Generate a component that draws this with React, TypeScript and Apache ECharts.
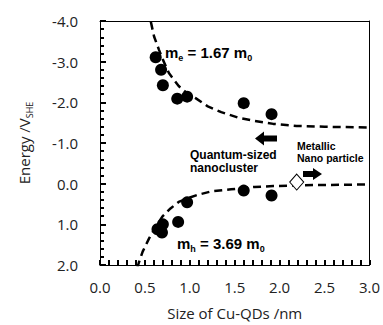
import React, { useEffect, useRef } from "react";
import * as echarts from "echarts";

const electronDots: [number, number][] = [
  [0.62, -3.11], [0.68, -2.8], [0.7, -2.42], [0.86, -2.09], [0.97, -2.14], [1.6, -1.98], [1.91, -1.71],
];
const holeDots: [number, number][] = [
  [0.64, 1.12], [0.69, 1.2], [0.7, 1.0], [0.87, 0.94], [0.97, 0.46], [1.6, 0.17], [1.91, 0.29],
];
const metalDot: [number, number][] = [[2.19, -0.04]];
const electronCurve: [number, number][] = [
  [0.566, -3.98], [0.602, -3.62], [0.657, -3.29], [0.7, -3.05], [0.767, -2.72], [0.876, -2.4], [0.97, -2.22],
  [1.06, -2.11], [1.2, -1.9], [1.35, -1.76], [1.53, -1.63], [1.7, -1.55], [1.93, -1.47], [2.19, -1.42],
  [2.5, -1.4], [3.0, -1.38],
];
const holeCurve: [number, number][] = [
  [0.415, 2.08], [0.431, 1.95], [0.475, 1.67], [0.548, 1.34], [0.621, 1.06], [0.694, 0.81], [0.785, 0.61],
  [0.876, 0.45], [0.986, 0.35], [1.095, 0.27], [1.24, 0.19], [1.46, 0.14], [1.72, 0.08], [1.93, 0.06],
  [2.19, 0.04], [3.0, 0.02],
];

const FONT = "Open Sans";
const BOLD = "Liberation Sans";

export default function App() {
  const ref = useRef<HTMLDivElement>(null);
  useEffect(() => {
    const chart = echarts.init(ref.current!, null, { renderer: "svg" });
    const dash = { color: "#000", width: 2.5, type: [8, 5] as number[] };
    const eqRich = {
      m: { fontFamily: BOLD, fontWeight: "bold", fontSize: 15, fill: "#000", lineHeight: 20 },
      s: { fontFamily: BOLD, fontWeight: "bold", fontSize: 9, fill: "#000", verticalAlign: "bottom", lineHeight: 9 },
    };
    const tickStyle = { color: "#000", width: 2, opacity: 1 };
    const frame = {
      type: "value", min: 0, max: 3,
      axisLine: { show: true, onZero: false, lineStyle: { color: "#000", width: 1 } },
      axisTick: { show: false }, minorTick: { show: false }, axisLabel: { show: false }, splitLine: { show: false },
    };
    chart.setOption({
      animation: false,
      grid: { left: 100, right: 9, top: 21, bottom: 58 },
      xAxis: [
        {
          type: "value", min: 0, max: 3, interval: 0.5, position: "bottom",
          axisLine: { show: true, onZero: false, lineStyle: { color: "#000", width: 1 } },
          axisTick: { show: true, inside: true, length: 5, lineStyle: tickStyle },
          minorTick: { show: true, splitNumber: 5, length: 5, lineStyle: tickStyle },
          splitLine: { show: false },
          axisLabel: { fontFamily: FONT, fontSize: 15, color: "#222", margin: 14, formatter: (v: number) => v.toFixed(1) },
          name: "Size of Cu-QDs /nm", nameLocation: "middle", nameGap: 40,
          nameTextStyle: { fontFamily: FONT, fontSize: 15, color: "#222" },
        },
        { ...frame, position: "top" },
      ],
      yAxis: [
        {
          type: "value", min: -4, max: 2, interval: 1, inverse: true, position: "left",
          axisLine: { show: true, onZero: false, lineStyle: { color: "#000", width: 1 } },
          axisTick: { show: true, inside: true, length: 6, lineStyle: tickStyle },
          minorTick: { show: true, splitNumber: 5, length: 4, lineStyle: tickStyle },
          splitLine: { show: false },
          axisLabel: {
            fontFamily: FONT, fontSize: 15, color: "#222", margin: 22,
            formatter: (v: number) => (Math.abs(v) < 1e-9 ? "0.0" : v.toFixed(1)),
          },
          name: "Energy /V{s|SHE}", nameLocation: "middle", nameGap: 66, nameRotate: 90,
          nameTextStyle: {
            fontFamily: FONT, fontSize: 15, color: "#222", lineHeight: 20,
            rich: { s: { fontFamily: FONT, fontSize: 9, color: "#222", verticalAlign: "bottom", lineHeight: 9 } },
          },
        },
        { ...frame, min: -4, max: 2, inverse: true, position: "right" },
      ],
      series: [
        { type: "line", data: electronCurve, showSymbol: false, symbol: "none", lineStyle: dash, clip: true, z: 2 },
        { type: "line", data: holeCurve, showSymbol: false, symbol: "none", lineStyle: dash, clip: true, z: 2 },
        { type: "scatter", data: electronDots, symbol: "circle", symbolSize: 12, itemStyle: { color: "#000", opacity: 1 }, z: 3 },
        { type: "scatter", data: holeDots, symbol: "circle", symbolSize: 12, itemStyle: { color: "#000", opacity: 1 }, z: 3 },
        {
          type: "scatter", data: metalDot, symbol: "diamond", symbolSize: [14, 16],
          itemStyle: { color: "#fff", borderColor: "#000", borderWidth: 1, opacity: 1 }, z: 4,
        },
      ],
      graphic: [
        {
          type: "text", x: 165, y: 52,
          style: { text: "{m|m}{s|e}{m| = 1.67 m}{s|0}", verticalAlign: "middle", rich: eqRich },
        },
        {
          type: "text", x: 177, y: 243,
          style: { text: "{m|m}{s|h}{m| = 3.69 m}{s|0}", verticalAlign: "middle", rich: eqRich },
        },
        {
          type: "text", x: 190, y: 155,
          style: { text: "Quantum-sized", fontFamily: BOLD, fontWeight: "bold", fontSize: 12, fill: "#000", verticalAlign: "middle" },
        },
        {
          type: "text", x: 190, y: 168,
          style: { text: "nanocluster", fontFamily: BOLD, fontWeight: "bold", fontSize: 12, fill: "#000", verticalAlign: "middle" },
        },
        {
          type: "text", x: 297, y: 146,
          style: { text: "Metallic", fontFamily: BOLD, fontWeight: "bold", fontSize: 10.5, fill: "#000", verticalAlign: "middle" },
        },
        {
          type: "text", x: 297, y: 158,
          style: { text: "Nano particle", fontFamily: BOLD, fontWeight: "bold", fontSize: 10.5, fill: "#000", verticalAlign: "middle" },
        },
        {
          type: "polygon",
          shape: { points: [[255, 138.5], [264, 131.5], [264, 135.5], [277, 135.5], [277, 141.5], [264, 141.5], [264, 145.5]] },
          style: { fill: "#000" },
        },
        {
          type: "polygon",
          shape: { points: [[303, 171], [313, 171], [313, 168], [322, 174], [313, 180], [313, 177], [303, 177]] },
          style: { fill: "#000" },
        },
      ],
    });
    return () => chart.dispose();
  }, []);
  return <div ref={ref} style={{ width: 383, height: 325, position: "absolute", left: 0, top: 0 }} />;
}
